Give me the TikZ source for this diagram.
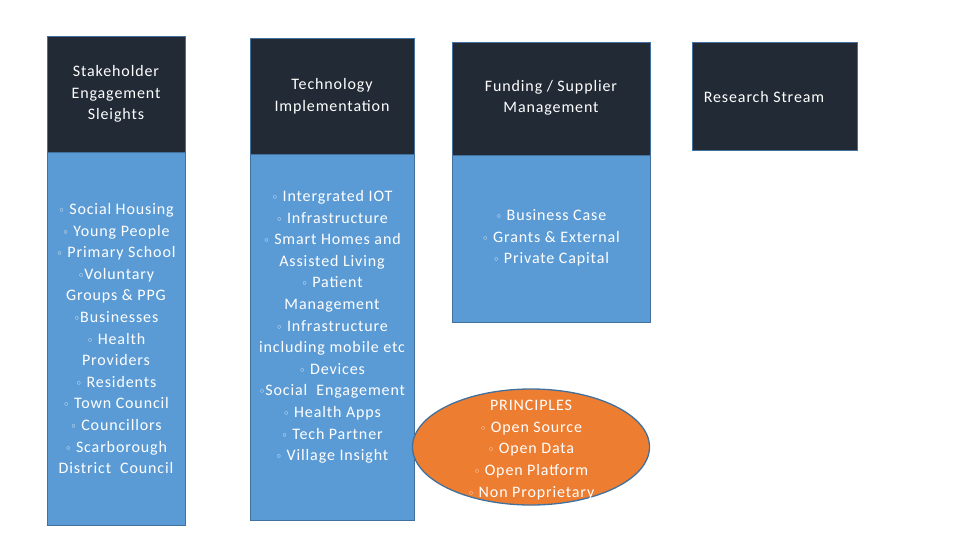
\documentclass[tikz,border=0pt]{standalone}
\usepackage{fontspec}
\setmainfont{Carlito}[LetterSpace=5.5]
\newfontfamily\dejavu{DejaVu Sans}
\usetikzlibrary{shapes.geometric}
\definecolor{hdr}{HTML}{222A35}
\definecolor{bdy}{HTML}{5B9BD5}
\definecolor{edge}{HTML}{41719C}
\definecolor{org}{HTML}{ED7D31}
\newcommand\bl{{\dejavu\fontsize{11}{10}\selectfont ◦}}
\tikzset{
  box/.style={draw=edge, line width=1.3pt, anchor=north west, inner sep=0pt},
  head/.style={box, fill=hdr},
  body/.style={box, fill=bdy},
  txt/.style={text=white, align=center, font=\fontsize{16}{21.6}\selectfont, inner sep=0pt},
  oval/.style={ellipse, draw=edge, line width=1.3pt, fill=org, inner sep=0pt}
}
\begin{document}
\begin{tikzpicture}[x=1pt,y=-1pt]
\useasboundingbox (0,0) rectangle (960,540);
% column 1
\node[body, minimum width=138pt, minimum height=373pt] (b1) at (47,152) {};
\node[head, minimum width=138pt, minimum height=116pt] (h1) at (47,36) {};
\node[txt] (h1t) at (116,94) {Stakeholder\\Engagement\\Sleights};
\node[txt] (b1t) at (116,338.5) {\bl\ Social Housing\\\bl\ Young People\\\bl\ Primary School\\\bl Voluntary\\Groups \& PPG\\\bl Businesses\\\bl\ Health\\Providers\\\bl\ Residents\\\bl\ Town Council\\\bl\ Councillors\\\bl\ Scarborough\\District\ \ Council};
% column 2
\node[body, minimum width=164pt, minimum height=366pt] (b2) at (250,154) {};
\node[head, minimum width=164pt, minimum height=116pt] (h2) at (250,38) {};
\node[txt] (h2t) at (332,96) {Technology\\Implementation};
\node[txt] (b2t) at (332,327) {\bl\ Intergrated IOT\\\bl\ Infrastructure\\\bl\ Smart Homes and\\Assisted Living\\\bl\ Patient\\Management\\\bl\ Infrastructure\\including mobile etc\\\bl\ Devices\\\bl Social\ \ Engagement\\\bl\ Health Apps\\\bl\ Tech Partner\\\bl\ Village Insight};
% column 3
\node[body, minimum width=198pt, minimum height=167pt] (b3) at (452,155) {};
\node[head, minimum width=198pt, minimum height=113pt] (h3) at (452,42) {};
\node[txt] (h3t) at (551,98) {Funding / Supplier\\Management};
\node[txt] (b3t) at (551,238) {\bl\ Business Case\\\bl\ Grants \& External\\\bl\ Private Capital};
% column 4
\node[head, minimum width=165pt, minimum height=108pt] (h4) at (692,42) {};
\node[txt] (h4t) at (764,97) {Research Stream};
% principles
\node[oval, minimum width=237pt, minimum height=116pt] (p) at (531,447) {};
\node[txt] (pt) at (531,450) {PRINCIPLES\\\bl\ Open Source\\\bl\ Open Data\\\bl\ Open Platform\\\bl\ Non Proprietary};
\end{tikzpicture}
\end{document}
